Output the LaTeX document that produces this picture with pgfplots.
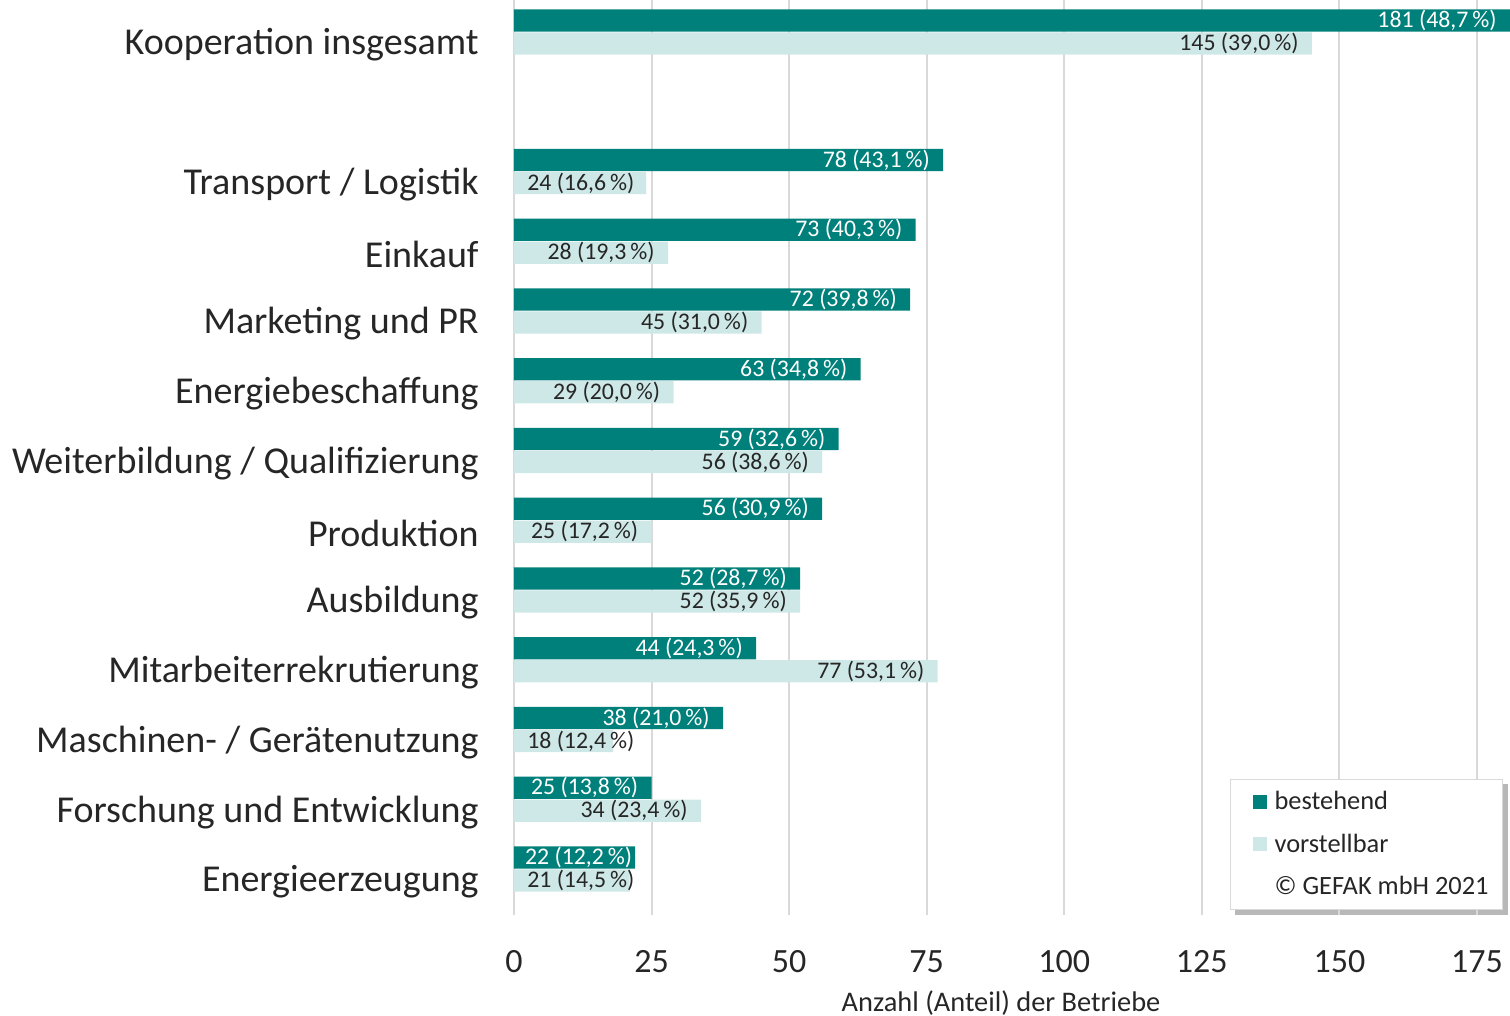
\documentclass[border=0pt]{standalone}
\usepackage{fontspec}
\setmainfont{Carlito}
\usepackage{pgfplots}
\usepackage{pgfplotstable}
\pgfplotsset{compat=1.18}
\usetikzlibrary{backgrounds}
\definecolor{dteal}{RGB}{0,128,122}
\definecolor{lteal}{RGB}{205,232,230}
\definecolor{gridc}{RGB}{217,217,217}
\definecolor{txt}{RGB}{38,38,38}

\pgfplotstableread[col sep=semicolon]{
y;x;lx;lab
0;181;181;181 (48,7\,\%)
2;78;78;78 (43,1\,\%)
3;73;73;73 (40,3\,\%)
4;72;72;72 (39,8\,\%)
5;63;63;63 (34,8\,\%)
6;59;59;59 (32,6\,\%)
7;56;56;56 (30,9\,\%)
8;52;52;52 (28,7\,\%)
9;44;44;44 (24,3\,\%)
10;38;38;38 (21,0\,\%)
11;25;25;25 (13,8\,\%)
12;22;23.9;22 (12,2\,\%)
}\dark

\pgfplotstableread[col sep=semicolon]{
y;x;lx;lab
0;145;145;145 (39,0\,\%)
2;24;24.3;24 (16,6\,\%)
3;28;28;28 (19,3\,\%)
4;45;45;45 (31,0\,\%)
5;29;29;29 (20,0\,\%)
6;56;56;56 (38,6\,\%)
7;25;25;25 (17,2\,\%)
8;52;52;52 (35,9\,\%)
9;77;77;77 (53,1\,\%)
10;18;24.3;18 (12,4\,\%)
11;34;34;34 (23,4\,\%)
12;21;24.3;21 (14,5\,\%)
}\light

\begin{document}
\begin{tikzpicture}
\begin{axis}[
  scale only axis,
  width=498pt, height=457.5pt,
  y dir=reverse,
  xmin=0, xmax=181,
  ymin=-0.459, ymax=12.66,
  clip=false,
  axis line style={draw=none},
  tick style={draw=none},
  xtick={0,25,50,75,100,125,150,175},
  xmajorgrids,
  major grid style={draw=gridc, line width=1pt},
  ytick={0,2,3,4,5,6,7,8,9,10,11,12},
  yticklabels={Kooperation insgesamt, Transport / Logistik, Einkauf, Marketing und PR, Energiebeschaffung, Weiterbildung / Qualifizierung, Produktion, Ausbildung, Mitarbeiterrekrutierung, Maschinen- / Gerätenutzung, Forschung und Entwicklung, Energieerzeugung},
  yticklabel style={font=\fontsize{19}{22}\selectfont, text=txt, anchor=east, inner sep=0pt, xshift=-17.5pt, yshift=-6.5pt},
  /pgf/number format/assume math mode=true,
  xticklabel style={font=\fontsize{17}{20}\selectfont, text=txt, anchor=center, yshift=-23.5pt},
  xlabel={Anzahl (Anteil) der Betriebe},
  xlabel style={font=\fontsize{14.2}{17}\selectfont, text=txt, at={(axis description cs:0.489,-0.096)}, anchor=center},
  legend cell align=left,
  legend style={name=leg, at={(axis description cs:0.993,0.1486)}, anchor=north east,
    draw=gridc, fill=white, font=\fontsize{13.2}{15}\selectfont, text=txt,
    inner xsep=5pt, inner ysep=4pt, row sep=6.5pt},
]
\addplot[xbar, bar width=0.32, draw=none, fill=dteal, bar shift=-0.165,
  legend image code/.code={\path[draw=none, fill=none] (0pt,-0.5pt) rectangle (15pt,0.5pt); \fill[dteal] (6pt,-3.5pt) rectangle (13pt,3.5pt);}]
  table[x=x, y=y] {\dark};
\addlegendentry{bestehend}
\addplot[xbar, bar width=0.32, draw=none, fill=lteal, bar shift=0.165,
  legend image code/.code={\path[draw=none, fill=none] (0pt,-0.5pt) rectangle (15pt,0.5pt); \fill[lteal] (6pt,-3.5pt) rectangle (13pt,3.5pt);}]
  table[x=x, y=y] {\light};
\addlegendentry{vorstellbar}
\addlegendimage{empty legend}
\addlegendentry{© GEFAK mbH 2021}

\addplot[forget plot, draw=none, mark=none, nodes near coords, point meta=explicit symbolic,
  every node near coord/.append style={anchor=east, inner sep=0pt, xshift=-6.5pt, font=\fontsize{11.9}{13}\selectfont, text=white}]
  table[x=lx, y expr=\thisrow{y}-0.165, meta=lab] {\dark};
\addplot[forget plot, draw=none, mark=none, nodes near coords, point meta=explicit symbolic,
  every node near coord/.append style={anchor=east, inner sep=0pt, xshift=-6.5pt, font=\fontsize{11.9}{13}\selectfont, text=txt}]
  table[x=lx, y expr=\thisrow{y}+0.165, meta=lab] {\light};
\end{axis}
\begin{pgfonlayer}{background}
\fill[black!28] ([xshift=2.5pt,yshift=-2.5pt]leg.south west) rectangle ([xshift=2.5pt,yshift=-2.5pt]leg.north east);
\end{pgfonlayer}
\pgfresetboundingbox
\path[use as bounding box] (-257pt,-50.5pt) rectangle (498pt,457.5pt);
\end{tikzpicture}
\end{document}
